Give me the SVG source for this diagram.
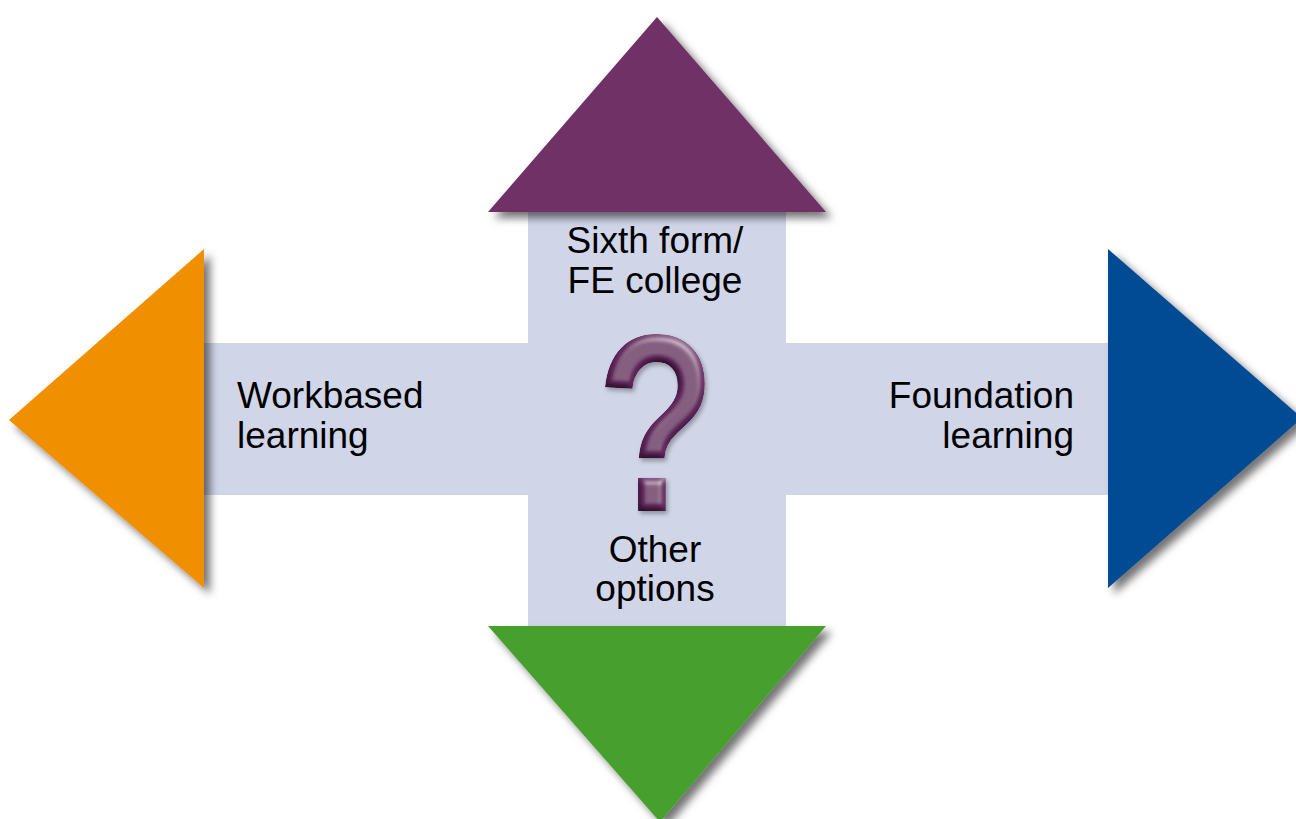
<svg xmlns="http://www.w3.org/2000/svg" width="1296" height="819" viewBox="0 0 1296 819">
  <defs>
    <style>
      .lbl { font-family: "Liberation Sans", Arial, sans-serif; font-size: 37px; fill: #000; }
      .mid { text-anchor: middle; }
      .end { text-anchor: end; }
      .bar { fill: #d0d5e8; }
    </style>
    <!-- soft shadow cast by each arrowhead -->
    <filter id="shadow" x="-20%" y="-20%" width="140%" height="140%">
      <feDropShadow dx="6" dy="6" stdDeviation="4.5" flood-color="#000" flood-opacity="0.55"/>
    </filter>
    <!-- embossed look for the central question mark -->
    <filter id="bevel" x="-20%" y="-20%" width="140%" height="140%">
      <feGaussianBlur in="SourceAlpha" stdDeviation="3.5" result="blur"/>
      <feSpecularLighting in="blur" surfaceScale="5" specularConstant="0.45" specularExponent="14" lighting-color="#ffffff" result="spec">
        <feDistantLight azimuth="300" elevation="40"/>
      </feSpecularLighting>
      <feComposite in="spec" in2="SourceAlpha" operator="in" result="specIn"/>
      <feDiffuseLighting in="blur" surfaceScale="5" diffuseConstant="1" lighting-color="#ffffff" result="diff">
        <feDistantLight azimuth="300" elevation="55"/>
      </feDiffuseLighting>
      <feComposite in="SourceGraphic" in2="diff" operator="arithmetic" k1="1.1" k2="0" k3="0" k4="0" result="lit"/>
      <feComposite in="lit" in2="SourceAlpha" operator="in" result="litIn"/>
      <feComposite in="litIn" in2="specIn" operator="arithmetic" k1="0" k2="1" k3="0.8" k4="0" result="bev"/>
      <feOffset in="SourceAlpha" dx="2" dy="3" result="off"/>
      <feGaussianBlur in="off" stdDeviation="2" result="sh"/>
      <feFlood flood-color="#000" flood-opacity="0.3"/>
      <feComposite in2="sh" operator="in" result="shadowC"/>
      <feMerge>
        <feMergeNode in="shadowC"/>
        <feMergeNode in="bev"/>
      </feMerge>
    </filter>
  </defs>

  <rect width="1296" height="819" fill="#ffffff"/>

  <!-- central cross -->
  <g id="cross">
    <path class="bar" d="M528 212 H786 V343 H1108 V495 H786 V626 H528 V495 H204 V343 H528 Z"/>
  </g>

  <!-- arrowheads -->
  <g id="node-sixth-form" filter="url(#shadow)">
    <polygon points="488,212 826,212 657,17" fill="#703066"/>
  </g>
  <g id="node-workbased" filter="url(#shadow)">
    <polygon points="204,249 204,588 9,420" fill="#f08f00"/>
  </g>
  <g id="node-foundation" filter="url(#shadow)">
    <polygon points="1108,249 1108,588 1302,418" fill="#004b93"/>
  </g>
  <g id="node-other" filter="url(#shadow)">
    <polygon points="488,626 826,626 660,822" fill="#46a02e"/>
  </g>

  <!-- labels -->
  <g id="label-sixth-form">
    <text class="lbl mid" x="655" y="253">Sixth form/</text>
    <text class="lbl mid" x="655" y="293">FE college</text>
  </g>
  <g id="label-workbased">
    <text class="lbl" x="237" y="408">Workbased</text>
    <text class="lbl" x="237" y="448">learning</text>
  </g>
  <g id="label-foundation">
    <text class="lbl end" x="1074" y="408">Foundation</text>
    <text class="lbl end" x="1074" y="448">learning</text>
  </g>
  <g id="label-other">
    <text class="lbl mid" x="655" y="562">Other</text>
    <text class="lbl mid" x="655" y="601">options</text>
  </g>

  <!-- central question mark -->
  <g id="question" filter="url(#bevel)">
    <text x="0" y="0" transform="translate(656 511) scale(0.78 1)" text-anchor="middle" font-family="'Liberation Sans', Arial, sans-serif" font-weight="bold" font-size="252" fill="#6f2d69">?</text>
  </g>
</svg>
